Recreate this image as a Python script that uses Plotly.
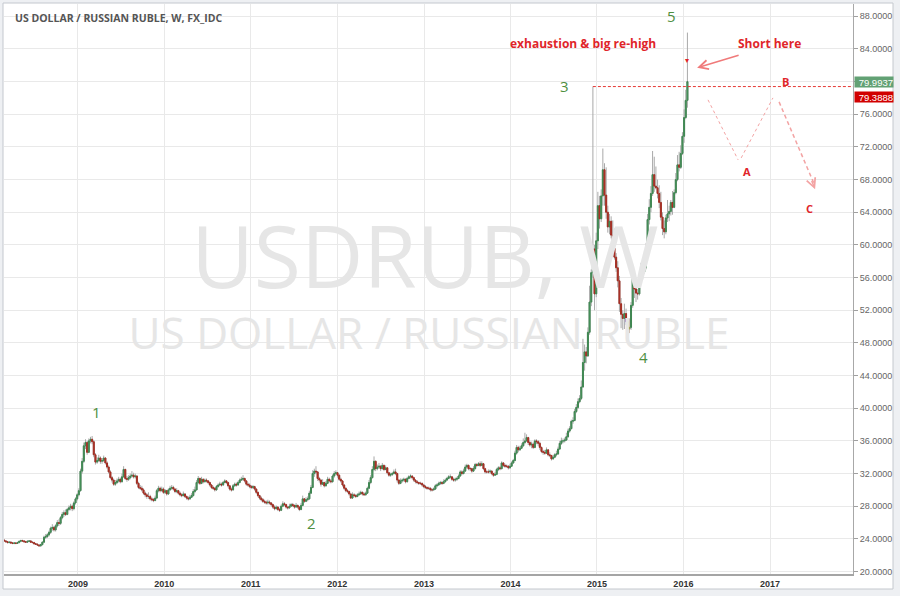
import numpy as np
import pandas as pd
import plotly.graph_objects as go

# ---------------- weekly USD/RUB data ----------------
first_open = 23.85
close_2008 = [23.75,23.65,23.55,23.6,23.5,23.45, 23.5,23.45,23.55,23.7, 23.8,23.75,23.65,23.6,
              23.7,23.75,23.6,23.55,23.4, 23.35,23.25,23.15,23.3, 23.6,24.2,24.3,24.5,
              24.8,25.3,25.4,25.1,25.6, 26.0,25.9,26.6,27.0, 27.2,27.0,27.6,27.8,
              28.0,27.7,28.4,28.9,29.4]
high_2008 = [23.95,23.85,23.75,23.7,23.7,23.6, 23.6,23.6,23.65,23.8, 23.9,23.9,23.85,23.75,
             23.8,23.85,23.85,23.7,23.65, 23.5,23.45,23.35,23.4, 23.7,24.4,24.6,24.7,
             25.0,25.5,25.8,25.6,25.8, 26.3,26.4,26.8,27.3, 27.5,27.6,27.8,28.1,
             28.3,28.2,28.6,29.1,29.6]
low_2008 = [23.65,23.55,23.45,23.45,23.4,23.35, 23.35,23.35,23.4,23.45, 23.6,23.65,23.55,23.5,
            23.5,23.6,23.5,23.45,23.3, 23.25,23.15,23.05,23.05, 23.2,23.5,24.0,24.1,
            24.3,24.6,25.0,24.9,24.9, 25.4,25.6,25.7,26.4, 26.7,26.8,26.9,27.4,
            27.5,27.4,27.5,28.2,28.7]

close_2009 = [29.9,32.3,33.5,35.4, 35.8,34.6,36.0,36.2, 35.9,34.3,33.4,33.6,33.9, 33.5,33.6,33.9,33.3,
              32.8,32.2,31.5,31.2, 30.7,30.9,31.1,31.3,31.0, 31.6,32.5,31.4,31.3, 31.5,31.7,31.8,31.6,31.7,
              30.8,30.3,30.2,30.0, 29.6,29.4,29.2,29.2, 28.9,28.8,28.7,29.0,29.9, 30.2,29.9,30.1,29.7]
high_2009 = [30.2,32.6,33.9,35.8, 36.2,36.0,36.3,36.5, 36.6,36.1,34.5,34.0,34.3, 34.1,33.9,34.2,34.0,
             33.5,33.0,32.4,31.7, 31.4,31.2,31.4,31.6,31.5, 32.0,32.9,32.6,31.7, 31.8,32.0,32.3,32.1,32.0,
             31.8,31.0,30.6,30.5, 30.2,29.8,29.6,29.7, 29.4,29.1,29.0,29.3,30.1, 30.5,30.4,30.4,30.3]
low_2009 = [29.2,29.8,32.0,33.3, 35.0,34.3,34.5,35.7, 35.6,34.0,33.1,33.2,33.4, 33.2,33.2,33.4,33.1,
            32.6,32.0,31.3,30.9, 30.5,30.5,30.7,30.9,30.8, 30.9,31.5,31.2,31.0, 31.1,31.3,31.5,31.4,31.4,
            30.6,30.1,30.0,29.8, 29.4,29.1,28.9,28.9, 28.7,28.6,28.5,28.6,28.9, 29.7,29.7,29.8,29.5]

close_2010 = [29.9,29.5,30.0,30.2, 30.3,30.1,29.8,29.9, 29.6,29.4,29.3,29.5,29.2, 29.0,28.9,29.1,29.3,
              29.8,30.0,30.9,31.4,30.8, 31.3,31.0,31.2,31.1, 30.9,30.6,30.3,30.2, 30.0,30.4,30.6,30.7,30.6,
              30.9,31.1,30.9,30.5, 30.1,30.0,30.5,30.7, 30.6,30.9,31.2,31.3,31.4, 31.1,30.7,30.6,30.4]
high_2010 = [30.1,30.0,30.2,30.5, 30.6,30.5,30.2,30.2, 30.0,29.8,29.6,29.8,29.6, 29.3,29.2,29.4,29.6,
             30.1,30.4,31.2,31.7,31.5, 31.6,31.4,31.4,31.4, 31.2,31.0,30.7,30.5, 30.3,30.6,30.8,31.0,30.9,
             31.1,31.3,31.2,31.0, 30.6,30.3,30.7,30.9, 30.9,31.1,31.4,31.6,31.8, 31.5,31.2,30.9,30.8]
low_2010 = [29.5,29.3,29.4,29.9, 30.0,29.9,29.6,29.6, 29.4,29.2,29.1,29.2,29.0, 28.8,28.7,28.8,29.0,
            29.2,29.6,29.9,30.7,30.6, 30.7,30.8,30.9,30.9, 30.7,30.4,30.1,30.0, 29.8,29.9,30.3,30.5,30.4,
            30.5,30.8,30.7,30.3, 29.9,29.8,29.9,30.4, 30.4,30.5,30.8,31.1,31.1, 30.9,30.5,30.4,30.2]

close_2011 = [30.3,30.4,30.1,29.7,29.3, 29.0,28.8,28.6,28.5, 28.4,28.5,28.4,28.2, 27.9,27.7,27.9,27.6,
              27.5,28.0,28.3,28.2,27.9, 27.8,28.0,28.2,28.1, 27.9,28.1,27.9,27.6, 28.1,28.9,28.6,28.8,28.9,
              29.6,30.3,32.0,32.3, 32.2,31.4,31.2,30.7,30.9, 30.5,30.8,31.3,31.1, 31.0,31.7,32.0,32.1]
high_2011 = [30.6,30.6,30.5,30.2,29.8, 29.4,29.2,29.0,28.8, 28.7,28.8,28.7,28.5, 28.3,28.1,28.1,28.0,
             27.8,28.2,28.6,28.5,28.3, 28.0,28.3,28.4,28.4, 28.2,28.4,28.2,28.0, 28.4,29.3,29.0,29.1,29.2,
             29.9,30.6,32.4,32.6, 32.9,32.3,31.6,31.3,31.3, 31.0,31.1,31.6,31.5, 31.3,31.9,32.3,32.4]
low_2011 = [30.1,30.1,29.9,29.5,29.1, 28.8,28.6,28.4,28.3, 28.2,28.2,28.2,28.0, 27.7,27.5,27.6,27.4,
            27.3,27.4,27.9,28.0,27.7, 27.6,27.7,27.9,27.9, 27.7,27.8,27.7,27.4, 27.5,28.0,28.4,28.5,28.6,
            28.8,29.5,30.2,31.6, 31.9,31.1,30.9,30.4,30.6, 30.3,30.4,30.7,30.9, 30.8,30.9,31.5,31.8]

close_2012 = [31.8,31.3,31.1,30.6,30.2, 29.9,29.8,29.5,29.0, 29.4,29.3,29.2,29.4, 29.5,29.7,29.5,29.4,29.6,
              30.2,30.9,31.5,32.5, 33.5,32.6,32.8,32.9, 32.6,33.0,32.5,32.7,32.1, 31.8,31.9,32.0,32.2,
              32.0,31.2,30.8,31.1, 31.2,31.3,31.0,31.4,31.6, 31.7,31.5,31.2,31.0, 30.9,30.8,30.8,30.6,30.4]
high_2012 = [32.2,31.9,31.5,31.2,30.7, 30.3,30.1,29.9,29.6, 29.7,29.6,29.5,29.6, 29.8,29.9,29.8,29.7,29.8,
             30.4,31.2,31.8,32.9, 34.1,33.6,33.1,33.3, 33.0,33.3,33.1,33.0,32.8, 32.2,32.1,32.2,32.5,
             32.6,32.1,31.3,31.4, 31.4,31.5,31.4,31.6,31.8, 31.9,31.8,31.6,31.3, 31.2,31.0,31.0,30.9,30.7]
low_2012 = [31.5,31.1,30.9,30.4,30.0, 29.7,29.6,29.3,28.9, 28.9,29.1,29.0,29.1, 29.3,29.4,29.3,29.3,29.3,
            29.5,30.1,30.7,31.4, 32.3,32.3,32.4,32.6, 32.3,32.5,32.3,32.4,31.9, 31.6,31.6,31.7,31.9,
            31.8,30.9,30.6,30.7, 30.9,31.0,30.8,30.9,31.3, 31.4,31.3,31.0,30.8, 30.7,30.6,30.6,30.4,30.2]

close_2013 = [30.3,30.2,30.2,30.0, 30.0,30.1,30.5,30.6, 30.8,30.9,30.8,31.0, 31.2,31.4,31.6,31.6,31.3,
              31.2,31.3,31.4,31.7, 32.2,32.0,32.3,32.8, 33.0,32.6,32.6,32.3,32.6, 33.1,33.0,33.2,33.0,
              33.2,32.6,32.2,32.2,32.2, 32.3,32.0,31.8,31.9, 32.5,32.7,32.6,33.3, 33.0,32.9,32.9,32.7,32.9]
high_2013 = [30.6,30.4,30.4,30.3, 30.2,30.3,30.7,30.8, 31.0,31.1,31.1,31.3, 31.4,31.6,31.8,31.9,31.7,
             31.5,31.5,31.6,31.9, 32.4,32.4,32.6,33.1, 33.2,33.1,32.8,32.7,32.9, 33.3,33.3,33.4,33.5,
             33.5,33.3,32.7,32.4,32.5, 32.5,32.4,32.1,32.2, 32.7,32.9,32.9,33.5, 33.4,33.2,33.1,33.0,33.2]
low_2013 = [30.1,30.0,30.0,29.8, 29.8,29.9,30.0,30.3, 30.5,30.6,30.6,30.7, 30.9,31.1,31.3,31.4,31.1,
            31.0,31.0,31.1,31.3, 31.6,31.8,31.9,32.2, 32.6,32.4,32.3,32.1,32.2, 32.5,32.8,32.9,32.8,
            32.9,32.4,32.0,32.0,32.0, 32.0,31.8,31.6,31.7, 31.8,32.3,32.4,32.5, 32.8,32.7,32.7,32.5,32.6]

close_2014 = [33.3,33.6,34.5,35.2, 34.9,35.1,35.4,35.8, 36.0,36.4,35.8,35.5,35.6, 35.2,36.0,35.9,35.7,
              35.2,34.7,34.6,34.5, 34.9,34.3,34.2,33.8,34.0, 34.3,34.4,35.0,35.7, 36.0,36.0,36.1,36.5,
              37.2,37.5,38.4,38.5,39.6, 40.1,40.8,41.2,42.6, 45.6,46.9,46.4,49.3, 53.0,56.6,59.5,54.0,60.5]
high_2014 = [33.5,33.8,34.8,35.5, 35.4,35.4,35.7,36.3, 37.0,36.8,36.5,36.0,35.9, 35.8,36.2,36.2,36.1,
             35.9,35.3,34.9,34.9, 35.2,35.0,34.6,34.3,34.3, 34.5,34.8,35.3,36.0, 36.4,36.3,36.4,37.0,
             37.5,37.8,38.6,38.9,39.9, 40.5,41.2,41.6,43.4, 48.5,47.8,47.5,49.9, 55.0,57.0,79.39,60.0,61.5]
low_2014 = [32.8,33.2,33.5,34.3, 34.6,34.8,35.0,35.3, 35.6,35.9,35.5,35.3,35.1, 35.0,35.1,35.6,35.4,
            34.9,34.5,34.3,34.3, 34.4,34.1,34.0,33.6,33.7, 33.9,34.1,34.3,34.9, 35.5,35.7,35.8,36.0,
            36.4,37.0,37.4,38.1,38.4, 39.4,39.9,40.6,41.0, 42.5,44.6,45.5,46.3, 49.0,52.5,56.0,52.0,53.6]

close_2015 = [64.8,63.2,66.0,69.2, 66.1,64.0,62.2,62.9, 61.2,59.6,58.5,57.2,55.6, 52.8,51.5,51.0,51.6,
              50.6,49.7,49.9,52.6, 55.8,54.6,54.1,54.0,55.4, 56.4,56.7,57.2,59.3, 63.1,64.6,66.3,68.6,67.2,
              67.0,66.3,65.2,63.4, 62.0,61.6,63.3,63.8, 64.1,65.2,64.6,66.4,68.0, 69.8,69.5,71.2,73.3]
high_2015 = [66.5,66.0,66.8,71.8, 70.0,69.5,64.8,63.8, 63.5,63.0,62.0,59.0,58.0, 56.2,53.5,52.0,52.8,
             52.2,51.0,51.0,53.0, 56.5,56.0,55.0,54.6,56.4, 57.8,57.2,57.6,60.2, 63.8,65.6,67.2,71.5,70.8,
             69.6,68.0,67.3,66.5, 64.0,63.0,63.7,65.5, 64.8,65.5,66.6,66.8,68.8, 71.0,71.4,72.2,73.8]
low_2015 = [59.5,62.0,62.8,64.8, 64.8,63.2,61.5,61.3, 60.8,59.2,58.2,56.7,54.8, 51.8,49.8,49.6,49.7,
            50.2,48.9,49.2,49.6, 52.3,53.5,53.0,53.3,53.8, 55.2,55.8,56.5,57.0, 59.1,62.5,64.0,66.0,66.5,
            66.8,65.7,64.5,63.0, 61.2,60.8,61.3,62.8, 62.9,63.6,63.7,64.5,66.2, 67.8,69.0,69.3,71.0]

close_2016 = [75.6, 77.7, 79.9937]
high_2016 = [76.6, 79.0, 86.0]
low_2016 = [72.5, 75.4, 76.8]

last_price = 79.9937
level_price = 79.3888
level_start = "2014-12-15"

year_ticks = ["2009", "2010", "2011", "2012", "2013", "2014", "2015", "2016", "2017"]

# ---------------- assemble ----------------
close = (close_2008 + close_2009 + close_2010 + close_2011 + close_2012 +
         close_2013 + close_2014 + close_2015 + close_2016)
high = (high_2008 + high_2009 + high_2010 + high_2011 + high_2012 +
        high_2013 + high_2014 + high_2015 + high_2016)
low = (low_2008 + low_2009 + low_2010 + low_2011 + low_2012 +
       low_2013 + low_2014 + low_2015 + low_2016)
n = min(len(close), len(high), len(low))
close = np.array(close[:n]); high = np.array(high[:n]); low = np.array(low[:n])
opn = np.concatenate([[first_open], close[:-1]])
dates = pd.date_range("2008-02-25", periods=n, freq="W-MON")
body_hi = np.maximum(opn, close)
body_lo = np.minimum(opn, close)
high = np.maximum(high, body_hi)
low = np.minimum(low, body_lo)

fig = go.Figure()

# watermark (behind candles)
fig.add_trace(go.Scatter(x=[pd.Timestamp("2013-01-05")], y=[57.3], mode="text", text=["USDRUB, W"],
                         textfont=dict(family="Open Sans", size=86, color="#e6e6e6"),
                         hoverinfo="skip", showlegend=False))
fig.add_trace(go.Scatter(x=[pd.Timestamp("2013-01-22")], y=[48.6], mode="text",
                         text=["US DOLLAR / RUSSIAN RUBLE"],
                         textfont=dict(family="Open Sans", size=44, color="#e6e6e6"),
                         hoverinfo="skip", showlegend=False))

# wicks
wick = "#a9a9a9"
fig.add_trace(go.Candlestick(x=dates, open=opn, high=high, low=low, close=close,
                             increasing=dict(line=dict(color=wick, width=1), fillcolor=wick),
                             decreasing=dict(line=dict(color=wick, width=1), fillcolor=wick),
                             hoverinfo="skip", showlegend=False))
# bodies
fig.add_trace(go.Candlestick(x=dates, open=opn, high=body_hi, low=body_lo, close=close,
                             increasing=dict(line=dict(color="#3f8752", width=1), fillcolor="#53a266"),
                             decreasing=dict(line=dict(color="#a32d22", width=1), fillcolor="#c43c2e"),
                             hoverinfo="skip", showlegend=False))

# ---------------- layout ----------------
L, R, T, B = 4, 47, 4, 22
W, H = 900, 596
PW, PH = W - L - R, H - T - B
def px(x):
    return (x - L) / PW
def py(y):
    return (H - B - y) / PH

shapes = []
# white chart frame
shapes.append(dict(type="rect", xref="paper", yref="paper", x0=px(3), x1=px(893), y0=py(589), y1=py(3),
                   fillcolor="#ffffff", line=dict(color="#c4c8ce", width=1), layer="below"))
# level line
shapes.append(dict(type="line", xref="x", yref="y", x0=level_start, x1="2017-12-17",
                   y0=level_price, y1=level_price, line=dict(color="#e53935", width=1, dash="3px,2px")))
# ABC projection
pink = "#f3a3a3"
shapes.append(dict(type="line", xref="x", yref="y", x0="2016-04-14", y0=77.76, x1="2016-08-19", y1=70.41,
                   line=dict(color=pink, width=1, dash="dot")))
shapes.append(dict(type="line", xref="x", yref="y", x0="2016-09-01", y0=70.65, x1="2017-01-13", y1=78.0,
                   line=dict(color=pink, width=1, dash="dot")))
shapes.append(dict(type="line", xref="x", yref="y", x0="2017-02-08", y0=77.51, x1="2017-07-04", y1=67.6,
                   line=dict(color=pink, width=1.5, dash="4px,3px")))

red = "#e0252a"
green = "#4e8f3f"
ann = []
ann.append(dict(xref="paper", yref="paper", x=px(13), y=py(18), xanchor="left", yanchor="middle",
                text="<b>US DOLLAR / RUSSIAN RUBLE, W, FX_IDC</b>", showarrow=False,
                font=dict(family="Open Sans", size=10.5, color="#555555")))
for t, xd, yv in [("1", "2009-03-22", 39.49), ("2", "2011-09-12", 25.89), ("3", "2014-08-15", 79.47),
                  ("4", "2015-07-15", 46.3), ("5", "2015-11-13", 88.05)]:
    ann.append(dict(x=xd, y=yv, text=t, showarrow=False, font=dict(family="Open Sans", size=15, color=green)))
for t, xd, yv in [("A", "2016-09-26", 68.94), ("B", "2017-03-05", 79.96), ("C", "2017-06-15", 64.41)]:
    ann.append(dict(x=xd, y=yv, text="<b>%s</b>" % t, showarrow=False,
                    font=dict(family="Open Sans", size=11, color=red)))
ann.append(dict(x="2014-11-03", y=84.62, text="<b>exhaustion &amp; big re-high</b>", showarrow=False,
                font=dict(family="Open Sans", size=12, color=red)))
ann.append(dict(x="2016-12-28", y=84.62, text="<b>Short here</b>", showarrow=False,
                font=dict(family="Open Sans", size=12, color=red)))
ann.append(dict(x="2016-02-28", y=81.68, ax=43, ay=-13, text="", showarrow=True, arrowhead=5,
                arrowsize=1.2, arrowwidth=1.5, arrowcolor="#f07a7a", standoff=0))
ann.append(dict(x="2017-07-10", y=66.8, ax=-4, ay=-10, text="", showarrow=True, arrowhead=5,
                arrowsize=1.2, arrowwidth=1.5, arrowcolor=pink, standoff=0))
ann.append(dict(x=dates[-1], y=82.7, text="▾", showarrow=False, font=dict(size=8, color=red)))
# price labels on the axis
ann.append(dict(xref="paper", x=1, xanchor="left", xshift=1, yref="y", y=last_price, text="%.4f" % last_price,
                showarrow=False, bgcolor="#62a174", font=dict(family="Liberation Sans", size=9.5, color="#ffffff"),
                width=38, height=10, align="right", borderpad=0))
ann.append(dict(xref="paper", x=1, xanchor="left", xshift=1, yref="y", y=level_price, yshift=-10,
                text="%.4f" % level_price, showarrow=False, bgcolor="#d10000",
                font=dict(family="Liberation Sans", size=9.5, color="#ffffff"),
                width=38, height=10, align="right", borderpad=0))

fig.update_layout(
    width=W, height=H, margin=dict(l=L, r=R, t=T, b=B),
    paper_bgcolor="#eef0f3", plot_bgcolor="#ffffff", showlegend=False, boxgap=0.15,
    shapes=shapes, annotations=ann,
    xaxis=dict(type="date", range=["2008-02-24", "2017-12-17"], rangeslider=dict(visible=False),
               tickvals=[pd.Timestamp(y + "-01-01") for y in year_ticks], ticktext=year_ticks,
               showgrid=True, gridcolor="#e9e9e9", gridwidth=1, zeroline=False,
               showline=True, linecolor="#a5a5a5", linewidth=2, ticks="",
               tickfont=dict(family="Liberation Sans", size=9, color="#333333", weight="bold")),
    yaxis=dict(side="right", range=[19.7, 89.5], dtick=4, tick0=0, tickformat=".4f",
               showgrid=True, gridcolor="#e9e9e9", gridwidth=1, zeroline=False,
               showline=True, linecolor="#a8a8a8", linewidth=1, ticks="outside", ticklen=4,
               tickcolor="#a0a0a0", tickfont=dict(family="Liberation Sans", size=9, color="#666666")),
)
fig.write_html("out.html")
